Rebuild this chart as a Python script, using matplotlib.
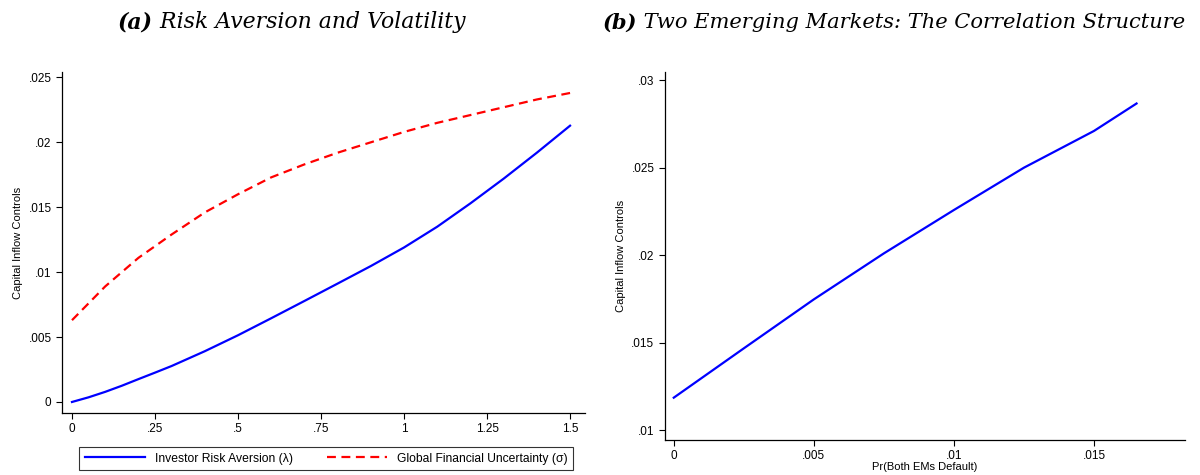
import matplotlib.pyplot as plt
import numpy as np

# panel (a) data
lam = [0, 0.05, 0.1, 0.15, 0.2, 0.25, 0.3, 0.4, 0.5, 0.6, 0.7, 0.8, 0.9,
       1.0, 1.1, 1.2, 1.3, 1.4, 1.5]
risk_aversion = [0.0, 0.00036, 0.00078, 0.00125, 0.00176, 0.00226, 0.00277,
                 0.00391, 0.00514, 0.00645, 0.00778, 0.00912, 0.01047,
                 0.0119, 0.0135, 0.0153, 0.0172, 0.0192, 0.02128]
uncertainty = [0.0063, 0.0076, 0.0089, 0.0100, 0.0111, 0.0120, 0.0129,
               0.0146, 0.0160, 0.0173, 0.0183, 0.0192, 0.0200,
               0.0208, 0.0215, 0.0221, 0.0227, 0.0233, 0.0238]

# panel (b) data
pr_both = [0, 0.0025, 0.005, 0.0075, 0.01, 0.0125, 0.015, 0.01652]
cic_b = [0.01185, 0.01467, 0.01747, 0.0201, 0.02258, 0.0250, 0.0271, 0.02867]

plt.rcParams['font.family'] = ['Liberation Sans', 'DejaVu Sans']

fig = plt.figure(figsize=(12, 4.75), dpi=100)
ax1 = fig.add_axes([0.0517, 0.1305, 0.4358, 0.7175])
ax2 = fig.add_axes([0.554, 0.0737, 0.4335, 0.7743])

def stata_axes(ax):
    for s in ['top', 'right']:
        ax.spines[s].set_visible(False)
    for s in ['left', 'bottom']:
        ax.spines[s].set_linewidth(0.9)
    ax.tick_params(direction='out', length=4, width=0.8, labelsize=8.5)

# (a)
ax1.plot(lam, risk_aversion, color='blue', lw=1.6, label='Investor Risk Aversion (\u03bb)')
ax1.plot(lam, uncertainty, color='red', lw=1.6, ls=(0, (4, 2.5)),
         label='Global Financial Uncertainty (\u03c3)')
ax1.set_xlim(-0.03, 1.545)
ax1.set_ylim(-0.00085, 0.0254)
ax1.set_xticks([0, 0.25, 0.5, 0.75, 1, 1.25, 1.5])
ax1.set_xticklabels(['0', '.25', '.5', '.75', '1', '1.25', '1.5'])
ax1.set_yticks([0, 0.005, 0.01, 0.015, 0.02, 0.025])
ax1.set_yticklabels(['0', '.005', '.01', '.015', '.02', '.025'])
ax1.set_ylabel('Capital Inflow Controls', fontsize=8)
stata_axes(ax1)

leg = fig.legend(loc='center', bbox_to_anchor=(0.2717, 0.0345), ncol=2, fontsize=8.7,
                 frameon=True, fancybox=False, edgecolor='black',
                 handlelength=5, columnspacing=2.8, borderpad=0.45)
leg.get_frame().set_linewidth(0.8)

# (b)
ax2.plot(pr_both, cic_b, color='blue', lw=1.6)
ax2.set_xlim(-0.00032, 0.01825)
ax2.set_ylim(0.00943, 0.03046)
ax2.set_xticks([0, 0.005, 0.01, 0.015])
ax2.set_xticklabels(['0', '.005', '.01', '.015'])
ax2.set_yticks([0.01, 0.015, 0.02, 0.025, 0.03])
ax2.set_yticklabels(['.01', '.015', '.02', '.025', '.03'])
ax2.set_ylabel('Capital Inflow Controls', fontsize=8)
ax2.set_xlabel('Pr(Both EMs Default)', fontsize=8, labelpad=0)
stata_axes(ax2)

# titles: bold-italic letter + italic text, fitted to the reference width
def panel_title(x_left, x_right, letter, text):
    size = 16
    t1 = fig.text(0, 0.953, letter, fontsize=size, family='DejaVu Serif',
                  style='italic', weight='bold', va='center')
    t2 = fig.text(0, 0.953, ' ' + text, fontsize=size, family='DejaVu Serif',
                  style='italic', va='center')
    fig.canvas.draw()
    r = fig.canvas.get_renderer()
    w = t1.get_window_extent(r).width + t2.get_window_extent(r).width
    size = size * (x_right - x_left) / w
    t1.set_fontsize(size)
    t2.set_fontsize(size)
    fig.canvas.draw()
    w1 = t1.get_window_extent(r).width
    t1.set_x(x_left / 1200)
    t2.set_x((x_left + w1) / 1200)

panel_title(118, 466, '(a)', 'Risk Aversion and Volatility')
panel_title(603, 1188, '(b)', 'Two Emerging Markets: The Correlation Structure')

fig.savefig('out.png', dpi=100)
